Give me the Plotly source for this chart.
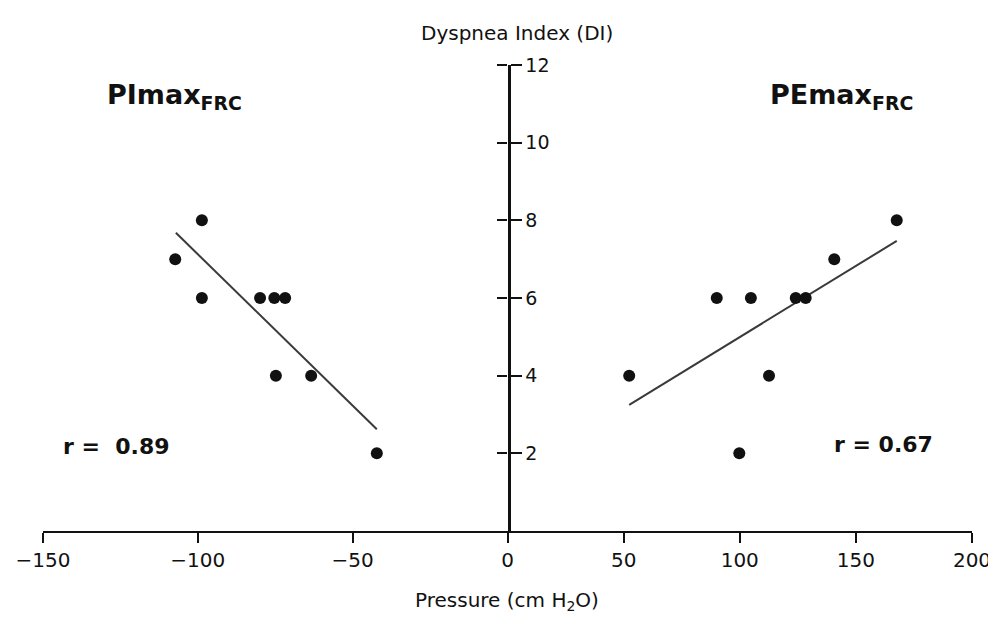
import plotly.graph_objects as go

# ---- data ----
pimax_x = [-98.7, -107.3, -98.7, -79.9, -75.3, -71.8, -74.8, -63.4, -42.2]
pimax_di = [8, 7, 6, 6, 6, 6, 4, 4, 2]
pimax_fit_x = [-107.1, -42.2]
pimax_fit_di = [7.68, 2.62]
pimax_r = "0.89"

pemax_x = [167.6, 140.7, 90.1, 104.8, 124.1, 128.4, 52.4, 112.6, 99.8]
pemax_di = [8, 7, 6, 6, 6, 6, 4, 4, 2]
pemax_fit_x = [52.4, 167.6]
pemax_fit_di = [3.25, 7.47]
pemax_r = "0.67"

left_ticks = [-150, -100, -50, 0]
right_ticks = [50, 100, 150, 200]
di_ticks = [2, 4, 6, 8, 10, 12]

FONT = "DejaVu Sans"
BLACK = "#111111"

fig = go.Figure()

# left half (PImax)
fig.add_trace(go.Scatter(x=pimax_fit_x, y=pimax_fit_di, mode="lines",
                         line=dict(color="#3a3a3a", width=2), xaxis="x", yaxis="y",
                         showlegend=False, hoverinfo="skip"))
fig.add_trace(go.Scatter(x=pimax_x, y=pimax_di, mode="markers",
                         marker=dict(color=BLACK, size=12), xaxis="x", yaxis="y",
                         showlegend=False))
# right half (PEmax)
fig.add_trace(go.Scatter(x=pemax_fit_x, y=pemax_fit_di, mode="lines",
                         line=dict(color="#3a3a3a", width=2), xaxis="x2", yaxis="y2",
                         showlegend=False, hoverinfo="skip"))
fig.add_trace(go.Scatter(x=pemax_x, y=pemax_di, mode="markers",
                         marker=dict(color=BLACK, size=12), xaxis="x2", yaxis="y2",
                         showlegend=False))

axis_common = dict(showgrid=False, zeroline=False, linecolor=BLACK, automargin=False,
                   ticks="outside", tickcolor=BLACK, tickwidth=2)

fig.update_layout(
    width=988, height=605,
    margin=dict(l=35, r=24, t=57, b=82),
    paper_bgcolor="white", plot_bgcolor="white",
    font=dict(family=FONT, color=BLACK),
    xaxis=dict(domain=[0, 0.5], range=[-150, 0], tickvals=left_ticks, ticklen=10,
               showline=True, linewidth=2, tickfont=dict(size=20, family=FONT),
               anchor="y", ticklabeloverflow="allow", **axis_common),
    xaxis2=dict(domain=[0.5, 1], range=[0, 200], tickvals=right_ticks, ticklen=10,
                showline=True, linewidth=2, tickfont=dict(size=20, family=FONT),
                anchor="y2", ticklabeloverflow="allow", **axis_common),
    yaxis=dict(range=[0, 12], tickvals=di_ticks, side="right", anchor="x", ticklen=11,
               showline=True, linewidth=3, tickfont=dict(size=19, family=FONT),
               **axis_common),
    yaxis2=dict(range=[0, 12], tickvals=di_ticks, side="left", anchor="x2", ticklen=10,
                showline=False, showticklabels=False, matches="y", **axis_common),
)

fig.add_annotation(text="Dyspnea Index (DI)", xref="paper", yref="paper",
                   x=0.510, y=1.0, yshift=32, xanchor="center", yanchor="middle",
                   showarrow=False, font=dict(size=20, family=FONT))
fig.add_annotation(text="Pressure (cm H<sub>2</sub>O)", xref="paper", yref="paper",
                   x=0.499, y=0.0, yshift=-70, xanchor="center", yanchor="middle",
                   showarrow=False, font=dict(size=20, family=FONT))

fig.add_annotation(text="<b>PImax<sub>FRC</sub></b>", xref="x", yref="y",
                   x=-130, y=11.2, xanchor="left", yanchor="middle",
                   showarrow=False, font=dict(size=27, family=FONT))
fig.add_annotation(text="<b>PEmax<sub>FRC</sub></b>", xref="x2", yref="y2",
                   x=112, y=11.2, xanchor="left", yanchor="middle",
                   showarrow=False, font=dict(size=27, family=FONT))

fig.add_annotation(text="<b>r =  " + pimax_r + "</b>", xref="x", yref="y",
                   x=-144.2, y=2.17, xanchor="left", yanchor="middle",
                   showarrow=False, font=dict(size=22, family=FONT))
fig.add_annotation(text="<b>r = " + pemax_r + "</b>", xref="x2", yref="y2",
                   x=139.6, y=2.22, xanchor="left", yanchor="middle",
                   showarrow=False, font=dict(size=22, family=FONT))

fig.write_html("out.html")
